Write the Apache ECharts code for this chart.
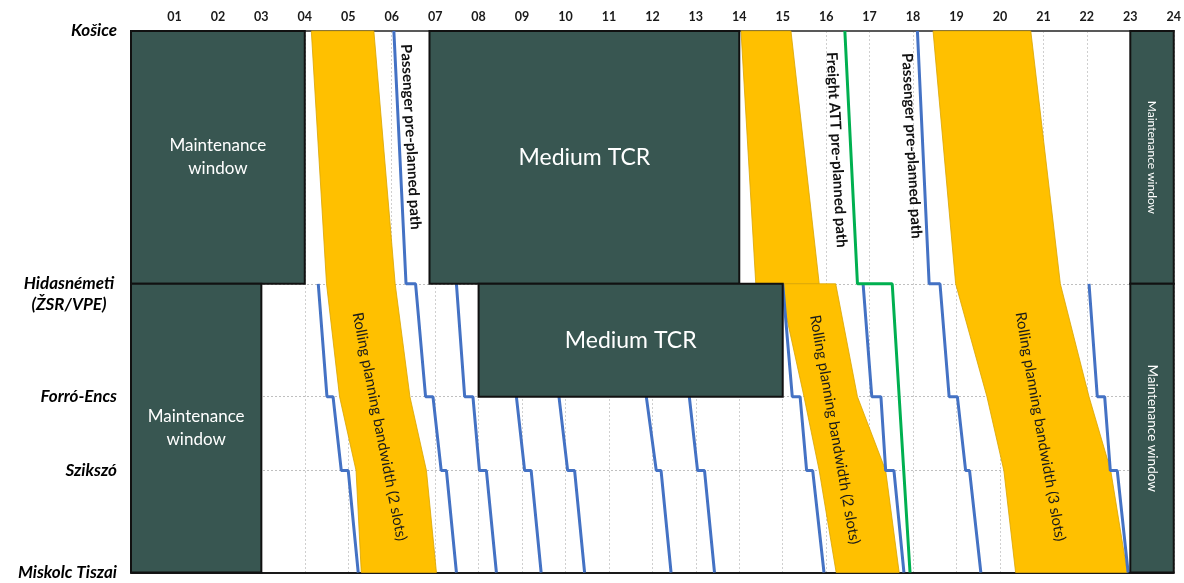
<!DOCTYPE html>
<html><head><meta charset="utf-8">
<script src="https://cdn.jsdelivr.net/npm/echarts@6/dist/echarts.min.js"></script>
<style>html,body{margin:0;padding:0;background:#fff}#c{width:1184px;height:583px}</style>
</head><body><div id="c"></div>
<script>
// ---------- DATA ----------
const hourLabels = ['01','02','03','04','05','06','07','08','09','10','11','12','13','14','15','16','17','18','19','20','21','22','23','24'];
const stationNames = ['Košice', 'Hidasnémeti\n(ŽSR/VPE)', 'Forró-Encs', 'Szikszó', 'Miskolc Tiszai'];
const stationDist = [0, 253, 366, 440, 542];

// blocked windows: start hour, end hour, from station index, to station index
const blockNames = ['Maintenance\nwindow', 'Maintenance\nwindow', 'Medium TCR', 'Medium TCR', 'Maintenance window', 'Maintenance window'];
const blockStart = [0, 0, 6.87, 8, 23, 23];
const blockEnd   = [4, 3, 14, 15, 24, 24];
const blockFrom  = [0, 1, 0, 1, 0, 1];
const blockTo    = [1, 4, 1, 2, 1, 4];

// rolling planning bands: edges as [hour, station index]
const band1Left  = [[4.15,0],[4.5,1],[4.8,2],[5.18,3],[5.3,4]];
const band1Right = [[5.59,0],[6.08,1],[6.42,2],[6.8,3],[7.03,4]];
const band2UpperLeft  = [[14.04,0],[14.38,1]];
const band2UpperRight = [[15.19,0],[15.84,1]];
const band2LowerLeft  = [[14.92,1],[15.49,2],[15.84,3],[16.23,4]];
const band2LowerRight = [[16.22,1],[16.72,2],[17.37,3],[17.68,4]];
const band3Left  = [[18.46,0],[18.98,1],[19.7,2],[20.09,3],[20.36,4]];
const band3Right = [[20.71,0],[21.39,1],[22.05,2],[22.55,3],[22.93,4]];
const bandLabels = ['Rolling planning bandwidth (2 slots)', 'Rolling planning bandwidth (2 slots)', 'Rolling planning bandwidth (3 slots)'];
const bandLabelAnchor = [[5.72,396],[16.2,399],[20.93,396]];

// passenger paths (blue): [hour, station index]
const bluePaths = [
  [[6.05,0],[6.33,1],[6.55,1],[6.78,2],[6.95,2],[7.14,3],[7.26,3],[7.49,4]],
  [[4.31,1],[4.51,2],[4.65,2],[4.84,3],[5.0,3],[5.23,4]],
  [[7.49,1],[7.68,2],[7.87,2],[8.02,3],[8.18,3],[8.41,4]],
  [[8.87,2],[9.06,3],[9.21,3],[9.44,4]],
  [[9.85,2],[10.05,3],[10.21,3],[10.44,4]],
  [[11.86,2],[12.09,3],[12.2,3],[12.43,4]],
  [[12.85,2],[13.04,3],[13.2,3],[13.43,4]],
  [[15.0,1],[15.22,2],[15.4,2],[15.55,3],[15.69,3],[15.95,4]],
  [[16.85,1],[17.05,2],[17.26,2],[17.37,3],[17.56,3],[17.79,4]],
  [[18.1,0],[18.37,1],[18.62,1],[18.83,2],[19.02,2],[19.21,3],[19.3,3],[19.56,4]],
  [[22.05,1],[22.24,2],[22.41,2],[22.54,3],[22.7,3],[22.95,4]]
];
// freight path (green)
const freightPath = [[16.43,0],[16.72,1],[17.52,1],[17.93,4]];

const pathLabels = ['Passenger pre-planned path', 'Freight ATT pre-planned path', 'Passenger pre-planned path'];
const pathLabelAnchor = [[6.44,106],[16.24,119],[17.97,115]];

// ---------- STYLES ----------
const FONT = 'Lato';
const DARK = '#385651';
const blockStyles = [
  {size:17, lh:23, vertical:false},
  {size:17, lh:23, vertical:false},
  {size:23, lh:26, vertical:false},
  {size:23, lh:26, vertical:false},
  {size:12, lh:14, vertical:true},
  {size:13.5, lh:16, vertical:true}
];
const bandRot = [-79, -80, -80];

const toXY = p => [p[0], stationDist[p[1]]];
const bands = [
  [band1Left, band1Right],
  [band2UpperLeft, band2UpperRight],
  [band2LowerLeft, band2LowerRight],
  [band3Left, band3Right]
];

const chart = echarts.init(document.getElementById('c'), null, {renderer:'canvas'});

const series = [];
// bands
series.push({
  type:'custom', z:1, silent:true,
  data: bands.map((b,i)=>[i]),
  renderItem: (params, api) => {
    const b = bands[params.dataIndex];
    const pts = b[0].map(p=>api.coord(toXY(p))).concat(b[1].slice().reverse().map(p=>api.coord(toXY(p))));
    return {type:'polygon', shape:{points:pts}, style:{fill:'#FFC000', stroke:'#D9A400', lineWidth:0.8}};
  }
});
// band labels
series.push({
  type:'custom', z:5, silent:true,
  data: bandLabelAnchor,
  renderItem: (params, api) => {
    const i = params.dataIndex;
    const c = api.coord([api.value(0), api.value(1)]);
    return {type:'text', x:c[0], y:c[1], rotation: bandRot[i]*Math.PI/180,
      style:{text: bandLabels[i], fill:'#1a1a1a', fontSize:15, fontFamily:FONT, align:'center', verticalAlign:'middle'}};
  }
});
// blue paths
bluePaths.forEach(p => series.push({
  type:'line', z:2, silent:true, symbol:'none', animation:false,
  data: p.map(toXY),
  lineStyle:{color:'#4472C4', width:3}
}));
// freight
series.push({
  type:'line', z:2, silent:true, symbol:'none', animation:false,
  data: freightPath.map(toXY),
  lineStyle:{color:'#00B050', width:3}
});
// blocks
series.push({
  type:'custom', z:3, silent:true,
  data: blockStart.map((s,i)=>[s, stationDist[blockFrom[i]], blockEnd[i], stationDist[blockTo[i]]]),
  renderItem: (params, api) => {
    const i = params.dataIndex;
    const p0 = api.coord([api.value(0), api.value(1)]);
    const p1 = api.coord([api.value(2), api.value(3)]);
    const st = blockStyles[i];
    return {type:'group', children:[
      {type:'rect', shape:{x:p0[0], y:p0[1], width:p1[0]-p0[0], height:p1[1]-p0[1]},
        style:{fill:DARK, stroke:'#111', lineWidth:2}},
      {type:'text', x:(p0[0]+p1[0])/2, y:(p0[1]+p1[1])/2, rotation: st.vertical ? -Math.PI/2 : 0,
        style:{text:blockNames[i], fill:'#fff', fontSize:st.size, lineHeight:st.lh, fontFamily:FONT, align:'center', verticalAlign:'middle'}}
    ]};
  }
});
// path labels
series.push({
  type:'custom', z:5, silent:true,
  data: pathLabelAnchor,
  renderItem: (params, api) => {
    const i = params.dataIndex;
    const c = api.coord([api.value(0), api.value(1)]);
    return {type:'text', x:c[0], y:c[1], rotation: -87*Math.PI/180,
      style:{text: pathLabels[i], fill:'#111', fontSize:15, fontWeight:'bold', fontFamily:FONT, align:'center', verticalAlign:'middle'}};
  }
});

const ylab = {fontFamily:FONT, fontSize:17, fontWeight:'bold', fontStyle:'italic', color:'#000', lineHeight:21};

chart.setOption({
  animation:false,
  grid:{left:131, right:9, top:31, bottom:10},
  xAxis:[{
    type:'value', position:'top', min:0, max:24, interval:1,
    axisLine:{show:true, lineStyle:{color:'#595959', width:2}},
    axisTick:{show:false},
    axisLabel:{margin:8, fontFamily:FONT, fontSize:12.5, fontWeight:'bold', color:'#1a1a1a',
      formatter: v => v >= 1 ? hourLabels[v-1] : ''},
    splitLine:{show:true, lineStyle:{color:'#cfcfcf', type:[2,2], width:1}}
  },{
    type:'value', position:'bottom', min:0, max:24, interval:1,
    axisLine:{show:true, onZero:false, lineStyle:{color:'#1a1a1a', width:2}},
    axisTick:{show:false}, axisLabel:{show:false}, splitLine:{show:false}
  }],
  yAxis:{
    type:'value', inverse:true, min:0, max:542,
    axisLine:{show:false},
    axisTick:{show:false, customValues: stationDist},
    axisLabel:Object.assign({customValues: stationDist, margin:14,
      formatter: v => {
        const i = stationDist.indexOf(v);
        if (i < 0) return '';
        const lines = stationNames[i].split('\n');
        if (lines.length > 1) return '{c| }\n' + lines.map(l => '{c|' + l + '}').join('\n');
        return stationNames[i];
      },
      rich:{c:Object.assign({width:96, align:'center'}, ylab)}
    }, ylab),
    splitLine:{show:true, lineStyle:{color:'#bfbfbf', type:[2,2], width:1}}
  },
  series
});
</script>
</body></html>
